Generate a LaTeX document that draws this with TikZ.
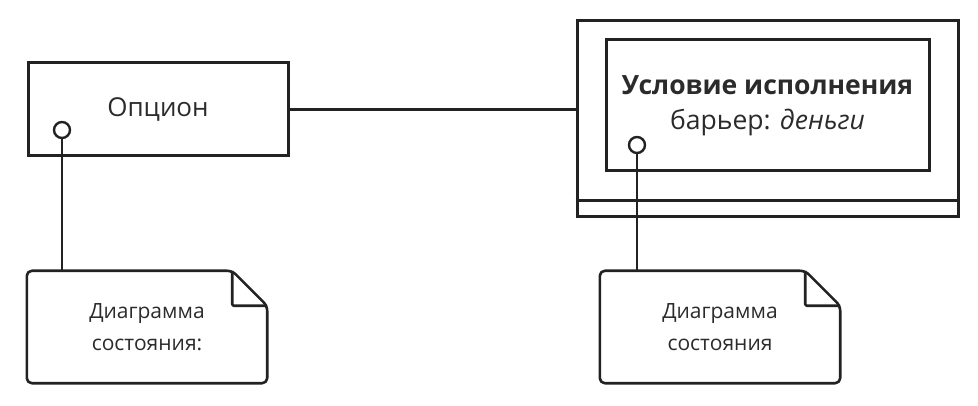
\documentclass[tikz,border=0pt]{standalone}
\usepackage{fontspec}
\setmainfont{Open Sans}
\usetikzlibrary{positioning,calc}
\definecolor{UmlInk}{HTML}{222222}
\definecolor{UmlText}{HTML}{2B2B2B}

\begin{document}
\begin{tikzpicture}[x=1pt,y=-1pt,
  box/.style={draw=UmlInk,line width=3pt,inner sep=0pt,text=UmlText},
  port/.style={circle,draw=UmlInk,line width=2.4pt,fill=white,
    minimum size=16pt,inner sep=0pt},
  wire/.style={draw=UmlInk,line width=2.4pt},
  notebox/.style={inner sep=0pt,minimum width=240pt,minimum height=112pt,
    align=center,text=UmlText,font=\fontsize{21}{32}\selectfont}]
  \useasboundingbox (0,0) rectangle (978,406);

  % option class on the left
  \node[box,minimum width=260pt,minimum height=93pt,
        font=\fontsize{26}{28}\selectfont] (option) at (158,109.5) {Опцион};
  \node[port] (optport) at (62,130) {};

  % exercise condition: outer frame with a compartment strip
  \node[box,minimum width=381pt,minimum height=196pt] (cond) at (767.5,119) {};
  \draw[wire,line width=3pt] ($(cond.south west)+(0,-18)$) -- ($(cond.south east)+(0,-18)$);
  \node[box,minimum width=323pt,minimum height=131pt,align=center,
        font=\fontsize{26.5}{35}\selectfont] (inner) at (767.5,105.5)
      {\textbf{Условие исполнения}\\барьер: \textit{деньги}};
  \node[port] (condport) at (637,145) {};

  \draw[wire] (option.east) -- (option.east -| cond.west);

  % attached notes, dog-eared corner drawn round the node
  \node[notebox] (optnote) at (147,327) {Диаграмма\\состояния:};
  \node[notebox] (condnote) at (720,327) {Диаграмма\\состояния};

  \foreach \n in {optnote,condnote} {
    \draw[UmlInk,line width=2.6pt,line join=round,rounded corners=5pt]
      ($(\n.north east)+(-35,0)$) -- (\n.north west) -- (\n.south west)
      -- (\n.south east) -- ($(\n.north east)+(0,35)$) -- cycle;
    \draw[UmlInk,line width=2.6pt,line join=round,rounded corners=2pt]
      ($(\n.north east)+(-35,0)$) -- ($(\n.north east)+(-35,35)$)
      -- ($(\n.north east)+(0,35)$);
  }

  \draw[wire] (optport.south) -- (optport.south |- optnote.north);
  \draw[wire] (condport.south) -- (condport.south |- condnote.north);
\end{tikzpicture}
\end{document}
